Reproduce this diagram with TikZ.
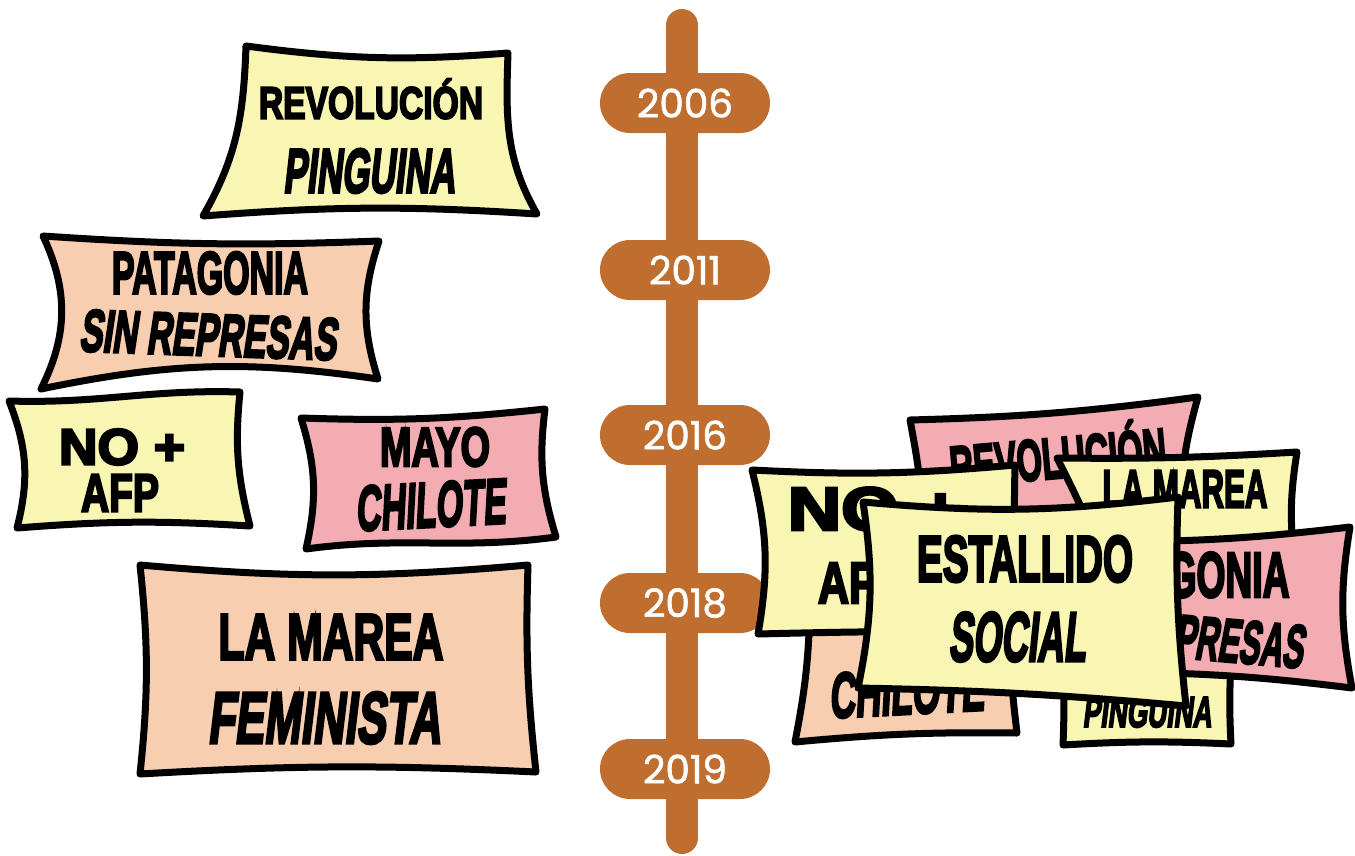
\documentclass[tikz,border=0pt]{standalone}
\usepackage{fontspec}
\usepackage{graphicx}
\newfontfamily\yearfont{Poppins}[FakeBold=1.6]
\newfontfamily\banup{Liberation Sans Bold}[FakeBold=4.5]
\newfontfamily\banit{Liberation Sans Bold}[FakeBold=4.5,FakeSlant=0.2]
\definecolor{byel}{RGB}{248,246,178}
\definecolor{bpeach}{RGB}{248,206,176}
\definecolor{bpink}{RGB}{242,172,178}
\definecolor{tbrown}{RGB}{191,110,47}
\newcommand\bantext[4]{\resizebox{#2pt}{#3pt}{#1\smash{#4}\vphantom{X}}}
\begin{document}
\begin{tikzpicture}[x=1pt,y=-1pt,
  ban/.style={draw=black, line width=7pt, line join=round, line cap=round},
  yb/.style={ban, fill=byel},
  pb/.style={ban, fill=bpeach},
  kb/.style={ban, fill=bpink},
  cc/.style={relative, out=-#1, in=180+#1},
  cv/.style={relative, out=#1, in=180-#1},
  sa/.style={relative, out=#1, in=180+#1},
  sb/.style={relative, out=-#1, in=180-#1},
  txt/.style={inner sep=0pt, outer sep=0pt},
  pill/.style={fill=tbrown, rounded corners=30pt, minimum width=170pt, minimum height=60pt, inner sep=0pt, text=white, font=\yearfont\fontsize{39}{39}\selectfont},
  tbar/.style={draw=tbrown, line width=32pt, line cap=round}]
\useasboundingbox (0,0) rectangle (1355,855);

% timeline
\coordinate (bartop) at (682,25);
\coordinate (barbot) at (682,838);
\draw[tbar] (bartop) -- (barbot);
\node[pill] (y2006) at (685,103) {2006};
\node[pill] (y2011) at (685,270) {2011};
\node[pill] (y2016) at (685,435) {2016};
\node[pill] (y2018) at (685,603) {2018};
\node[pill] (y2019) at (685,769) {2019};

% left banners
\draw[yb] (246,46) to[cc=6] (508,53) to[out=-92, in=120] (537,214) to[cc=4] (203,216) to[out=60, in=-92] (246,46) -- cycle;
\node[txt] (l1a) at (371,103) {\bantext\banup{224}{31}{REVOLUCIÓN}};
\node[txt] (l1b) at (369,171) {\bantext\banit{172}{43}{PINGUINA}};

\draw[pb] (43,236) to[cc=3] (379,241) to[cc=18] (378,379) to[cc=10] (41,389) to[cc=26] (43,236) -- cycle;
\node[txt] (l2a) at (210,273) {\bantext\banup{196}{41}{PATAGONIA}};
\node[txt, rotate=-2] (l2b) at (208,335) {\bantext\banit{257}{41}{SIN REPRESAS}};

\draw[yb] (9,401) to[sb=4] (240,392) to[cc=10] (250,526) to[cc=4] (17,528) to[cc=18] (9,401) -- cycle;
\node[txt] (l3a) at (122,447) {\bantext\banup{126}{35}{NO +}};
\node[txt] (l3b) at (120,493) {\bantext\banup{78}{37}{AFP}};

\draw[kb] (301,418) to[cc=4] (545,409) to[cc=12] (556,537) to[sa=5] (306,549) to[cc=15] (301,418) -- cycle;
\node[txt] (l4a) at (435,447) {\bantext\banup{110}{38}{MAYO}};
\node[txt, rotate=3] (l4b) at (430,505) {\bantext\banit{150}{44}{CHILOTE}};

\draw[pb] (140,565) to[cc=5] (528,565) to[cc=4] (536,772) to[cc=3] (140,774) to[cc=6] (140,565) -- cycle;
\node[txt] (l5a) at (331,637) {\bantext\banup{225}{45}{LA MAREA}};
\node[txt] (l5b) at (324,718) {\bantext\banit{233}{50}{FEMINISTA}};

% right cluster
\draw[kb] (910,420) to[cc=3] (1198,397) to[cc=10] (1183,545) to[cc=2] (925,545) to[cc=4] (910,420) -- cycle;
\node[txt, rotate=5] (r1a) at (1058,458) {\bantext\banup{217}{40}{REVOLUCIÓN}};

\draw[yb] (1057,458) to[cc=2] (1297,452) to[cc=8] (1295,565) to[cc=2] (1105,565) to[cc=3] (1057,458) -- cycle;
\node[txt] (r2a) at (1185,489) {\bantext\banup{165}{37}{LA MAREA}};

\draw[yb] (1060,640) to[cc=2] (1233,640) to[cc=4] (1231,744) to[cc=3] (1063,745) to[cc=4] (1060,640) -- cycle;
\node[txt] (r3b) at (1147,712) {\bantext\banit{129}{30}{PINGUINA}};

\draw[kb] (1120,542) to[cc=3] (1350,527) to[cc=10] (1352,688) to[cc=3] (1125,672) to[cc=4] (1120,542) -- cycle;
\node[txt] (r4a) at (1182,575) {\bantext\banup{215}{44}{PATAGONIA}};
\node[txt, rotate=-5] (r4b) at (1187,637) {\bantext\banit{234}{42}{SIN REPRESAS}};

\draw[pb] (810,600) to[cc=2] (1008,600) to[cc=3] (1017,733) to[cc=3] (795,742) to[cc=5] (810,600) -- cycle;
\node[txt, rotate=3] (r5b) at (906,692) {\bantext\banit{155}{44}{CHILOTE}};

\draw[yb] (752,470) to[cc=4] (1015,465) to[cc=3] (1020,632) to[cc=1] (758,634) to[cc=12] (752,470) -- cycle;
\node[txt] (r6a) at (875,509) {\bantext\banup{174}{42}{NO +}};
\node[txt] (r6b) at (861,583) {\bantext\banup{86}{40}{AFP}};

\draw[yb] (863,502) to[cc=6] (1178,497) to[cc=4] (1186,706) to[cc=2] (858,688) to[cc=10] (863,502) -- cycle;
\node[txt] (r7a) at (1025,559) {\bantext\banup{216}{45}{ESTALLIDO}};
\node[txt] (r7b) at (1017,637) {\bantext\banit{137}{48}{SOCIAL}};
\end{tikzpicture}
\end{document}
